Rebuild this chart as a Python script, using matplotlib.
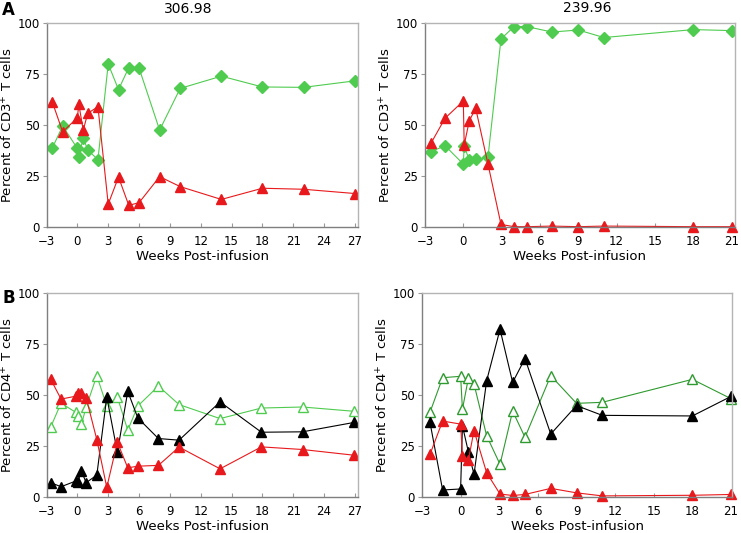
import matplotlib
matplotlib.use('Agg')
import matplotlib.pyplot as plt

# ---------------- data ----------------
# A, left (306.98): CD3+ T cells
a1_weeks = [-2.43, -1.43, 0, 0.14, 0.57, 1, 2, 3, 4, 5, 6, 8, 10, 14, 18, 22, 27]
a1_green = [38.8, 49.5, 38.5, 34.4, 43.8, 37.7, 33, 80, 67.4, 78.2, 78, 47.5, 68, 74, 68.7, 68.5, 71.7]
a1_red = [61.2, 46.6, 53.6, 60.2, 47.4, 55.7, 59, 11.1, 24.4, 10.5, 11.8, 24.6, 19.7, 13.4, 18.9, 18.4, 16.3]

# A, right (239.96)
a2_weeks = [-2.53, -1.43, 0, 0.07, 0.47, 0.97, 1.93, 2.95, 3.97, 4.96, 6.94, 9, 11, 18, 21.05]
a2_green = [36.9, 39.8, 30.8, 39.5, 32.8, 33.1, 34.1, 92.3, 98.4, 98.4, 95.7, 96.7, 93, 96.9, 96.4]
a2_red = [41, 53.3, 61.8, 40.2, 52.1, 58.2, 30.8, 1.1, 0, 0, 0.3, 0, 0.3, 0, 0]

# B, left: CD4+ T cells
b1_weeks = [-2.59, -1.59, -0.16, 0.04, 0.39, 0.85, 1.89, 2.86, 3.89, 4.9, 5.88, 7.88, 9.89, 13.88, 17.9, 21.9, 26.9]
b1_red = [57.7, 48, 49.4, 51.2, 51, 48.7, 28.1, 4.6, 26.8, 14.2, 15, 15.4, 24.4, 13.7, 24.5, 23.2, 20.4]
b1_black = [6.9, 4.9, 7.7, 7.2, 12.7, 6.9, 10.6, 49, 21.8, 51.8, 38.7, 28.6, 27.8, 46.6, 31.7, 31.9, 36.5]
b1_green = [34.3, 46, 41.5, 39.5, 35.5, 44, 59.5, 44.6, 49, 32.7, 44.6, 54.4, 45.3, 38.4, 43.6, 44.1, 42]

# B, right
b2_weeks = [-2.38, -1.4, 0, 0.14, 0.6, 1.04, 2.02, 3.06, 4.04, 5, 7, 9, 11, 18, 21]
b2_black = [36.6, 3.3, 3.8, 34.9, 22.1, 11, 57, 82.3, 56.2, 67.9, 30.8, 44.8, 40, 39.7, 49.3]
b2_green = [41.5, 58.5, 59.2, 43, 58.2, 55.4, 30, 15.9, 42.1, 29.2, 59.5, 45.9, 46.4, 57.7, 48.2]
b2_red = [20.8, 37.2, 35.7, 20.2, 18, 32.5, 11.8, 1.3, 0.6, 1.1, 4.1, 1.9, 0.4, 0.7, 1.1]

xticks_left = [-3, 0, 3, 6, 9, 12, 15, 18, 21, 24, 27]
xticks_right = [-3, 0, 3, 6, 9, 12, 15, 18, 21]
yticks = [0, 25, 50, 75, 100]

RED = '#e8191c'
GREEN = '#4fcc4f'
DKGREEN = '#2f9a2f'

fig = plt.figure(figsize=(7.41, 5.33), dpi=100)


def style_axis(ax, xlim, xticks, ylab):
    ax.set_xlim(xlim)
    ax.set_ylim(0, 100)
    ax.set_xticks(xticks)
    ax.set_yticks(yticks)
    for s in ['top', 'right']:
        ax.spines[s].set_color('#b4b4b4')
    for s in ['left', 'bottom']:
        ax.spines[s].set_color('#7f7f7f')
    for s in ax.spines.values():
        s.set_linewidth(1.0)
    ax.tick_params(axis='x', direction='in', length=3, color='#999999', labelsize=8.5, pad=6)
    ax.tick_params(axis='y', direction='out', length=3, color='#999999', labelsize=8.5, pad=2)
    ax.set_xlabel('Weeks Post-infusion', fontsize=9.5)
    ax.xaxis.set_label_coords(0.5, -0.115)
    ax.set_ylabel(ylab, fontsize=9.5)
    ax.yaxis.set_label_coords(-0.1, 0.5)


tri = dict(marker='^', markersize=7.5, lw=0.8)
dia = dict(marker='D', markersize=5.8, lw=0.8)

# A left
ax = fig.add_axes([0.0628, 0.5747, 0.4204, 0.3816])
ax.plot(a1_weeks, a1_green, color=GREEN, **dia)
ax.plot(a1_weeks, a1_red, color=RED, **tri)
style_axis(ax, (-3, 27.3), xticks_left, 'Percent of CD3$^{+}$ T cells')

# A right
ax = fig.add_axes([0.5735, 0.5747, 0.4184, 0.3816])
ax.plot(a2_weeks, a2_green, color=GREEN, **dia)
ax.plot(a2_weeks, a2_red, color=RED, clip_on=False, **tri)
style_axis(ax, (-3, 21.26), xticks_right, 'Percent of CD3$^{+}$ T cells')

# B left
ax = fig.add_axes([0.0628, 0.0681, 0.4204, 0.3816])
ax.plot(b1_weeks, b1_green, color=GREEN, marker='^', markersize=7.5, lw=0.8,
        markerfacecolor='white')
ax.plot(b1_weeks, b1_black, color='black', **tri)
ax.plot(b1_weeks, b1_red, color=RED, **tri)
style_axis(ax, (-3, 27.3), xticks_left, 'Percent of CD4$^{+}$ T cells')

# B right
ax = fig.add_axes([0.5695, 0.0681, 0.4184, 0.3816])
ax.plot(b2_weeks, b2_green, color=DKGREEN, marker='^', markersize=7.5, lw=0.8,
        markerfacecolor='white', clip_on=False)
ax.plot(b2_weeks, b2_black, color='black', clip_on=False, **tri)
ax.plot(b2_weeks, b2_red, color=RED, clip_on=False, **tri)
style_axis(ax, (-3, 21.08), xticks_right, 'Percent of CD4$^{+}$ T cells')

fig.text(188 / 741, 1 - 9 / 533, '306.98', ha='center', va='center', fontsize=10)
fig.text(587 / 741, 1 - 8 / 533, '239.96', ha='center', va='center', fontsize=10)
fig.text(0.003, 1 - 10 / 533, 'A', ha='left', va='center', fontsize=12, fontweight='bold')
fig.text(0.003, 1 - 298 / 533, 'B', ha='left', va='center', fontsize=12, fontweight='bold')

fig.savefig('out.png', dpi=100)
